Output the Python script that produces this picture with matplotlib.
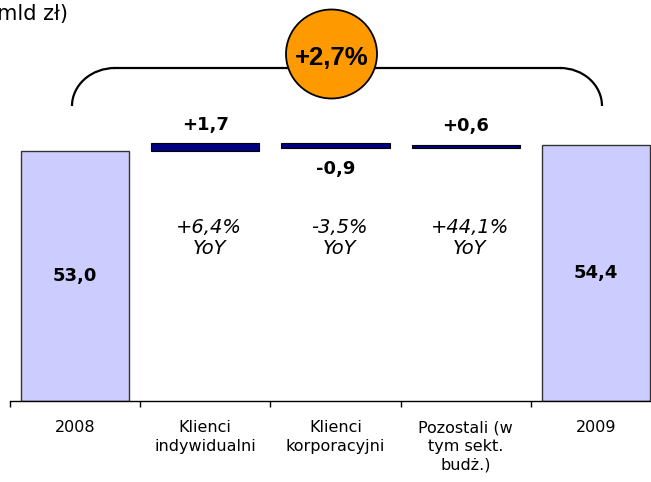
import matplotlib.pyplot as plt
from matplotlib.patches import Ellipse, Arc

# Waterfall: total 2008 -> changes by client segment -> total 2009
categories = ["2008", "Klienci\nindywidualni", "Klienci\nkorporacyjni",
              "Pozostali (w\ntym sekt.\nbudż.)", "2009"]
start_value = 53.0
changes = [1.7, -0.9, 0.6]
end_value = 54.4
yoy_labels = ["+6,4%", "-3,5%", "+44,1%"]
total_change = "+2,7%"
unit_label = "(mld zł)"


def fmt(v, sign=False):
    s = f"{v:+.1f}" if sign else f"{v:.1f}"
    return s.replace(".", ",")


fig = plt.figure(figsize=(6.51, 4.82), dpi=100)
W, H = 651, 482

# main axes: x range spans 10..661 px, zero line at y=401 px
ax = fig.add_axes([10 / W, 81 / H, 651 / W, 282.6 / H])
ax.set_xlim(-0.5, 4.5)
ax.set_ylim(0, 60)

bar_w = 0.83
total_color = "#CCCCFF"
delta_color = "#000080"

# totals
ax.bar([0, 4], [start_value, end_value], width=bar_w, color=total_color,
       edgecolor="#333333", linewidth=1.0, zorder=2)
for x, v in zip([0, 4], [start_value, end_value]):
    ax.text(x, v / 2, fmt(v), ha="center", va="center", fontsize=13,
            fontweight="bold", family="DejaVu Sans")

# floating change bars
level = start_value
for i, (d, yoy) in enumerate(zip(changes, yoy_labels)):
    x = i + 1
    bottom = level if d >= 0 else level + d
    ax.bar(x, abs(d), bottom=bottom, width=bar_w, color=delta_color,
           edgecolor="black", linewidth=0.8, zorder=2)
    if d >= 0:
        ax.annotate(fmt(d, sign=True), (x, level + d), xytext=(0, 7),
                    textcoords="offset points", ha="center", va="bottom",
                    fontsize=13, fontweight="bold")
    else:
        ax.annotate(fmt(d, sign=True), (x, level + d), xytext=(0, -9),
                    textcoords="offset points", ha="center", va="top",
                    fontsize=13, fontweight="bold")
    ax.text(x + 0.03, 34.6, yoy + "\nYoY", ha="center", va="center",
            fontsize=14, style="italic", linespacing=1.1)
    level += d

# axis styling: only the baseline with boundary ticks
for side in ["left", "right", "top"]:
    ax.spines[side].set_visible(False)
ax.spines["bottom"].set_linewidth(1.0)
ax.set_yticks([])
ax.set_xticks(range(len(categories)))
ax.set_xticklabels(categories, fontsize=11.5, linespacing=1.3)
ax.set_xticks([i - 0.5 for i in range(len(categories) + 1)], minor=True)
ax.tick_params(axis="x", which="major", length=0, pad=14)
ax.tick_params(axis="x", which="minor", length=4.5, width=1.0, direction="out")

# overlay in pixel coordinates for the bracket and total change badge
ov = fig.add_axes([0, 0, 1, 1])
ov.set_xlim(0, W)
ov.set_ylim(H, 0)
ov.axis("off")
ov.patch.set_alpha(0)

lw = 1.6
ov.plot([115, 560], [68, 68], color="black", lw=lw)
ov.add_patch(Arc((115, 106), 86, 76, theta1=180, theta2=270, color="black", lw=lw))
ov.add_patch(Arc((560, 106), 84, 76, theta1=270, theta2=360, color="black", lw=lw))
ov.add_patch(Ellipse((331.5, 54), 91, 89, facecolor="#FF9900",
                     edgecolor="black", lw=1.3, zorder=3))
ov.text(332, 58, total_change, ha="center", va="center", fontsize=18.5,
        fontweight="bold", family="Liberation Sans", zorder=4)

# unit label, partly running off the left edge
ov.text(68, 14, unit_label, ha="right", va="center", fontsize=15,
        family="DejaVu Sans")

fig.savefig("out.png", dpi=100)
